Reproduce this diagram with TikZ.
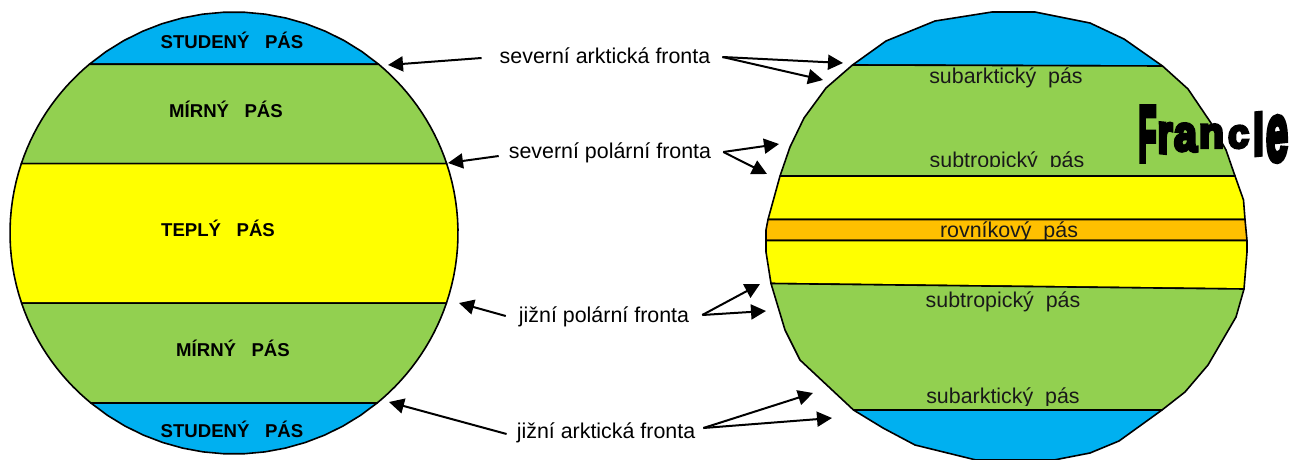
\documentclass[tikz,border=0pt]{standalone}
\usepackage{fontspec}
\usepackage{graphicx}
\setmainfont{Liberation Sans}
\newfontfamily\wafont[FakeBold=7]{Liberation Sans Bold}
\usetikzlibrary{arrows.meta}
\definecolor{beltblue}{HTML}{00B0F0}
\definecolor{beltgreen}{HTML}{92D050}
\definecolor{beltyellow}{HTML}{FFFF00}
\definecolor{beltorange}{HTML}{FFC000}
\tikzset{
  belt/.style={draw=black,line width=1.6pt,line join=round},
  globearc/.style={domain=#1,samples=16,variable=\t},
  boldlabel/.style={inner sep=0pt,font=\fontsize{18.6}{20}\selectfont\bfseries},
  beltlabel/.style={inner sep=0pt,font=\fontsize{21.4}{23}\selectfont,text=black!90},
  frontlabel/.style={inner xsep=0pt,inner ysep=0pt,font=\fontsize{21.4}{23}\selectfont},
  pointer/.style={line width=2pt,-{Triangle[length=15pt,width=15pt]}},
  waletter/.style={inner sep=0pt}
}
\newcommand{\waglyphh}[7]{\node[waletter,yslant=#7] (#1) at (#3,#4) {\resizebox{#5pt}{#6pt}{\wafont #2}};}
\begin{document}
\begin{tikzpicture}[x=1pt,y=-1pt]
\useasboundingbox (0,0) rectangle (1298,460);
% left globe
\path[belt,fill=beltblue] plot[globearc=49.8:130.2] ({234+224*cos(\t)},{233-221*sin(\t)}) -- cycle;
\path[belt,fill=beltgreen] plot[globearc=18.3:49.8] ({234+224*cos(\t)},{233-221*sin(\t)}) -- plot[globearc=130.2:161.7] ({234+224*cos(\t)},{233-221*sin(\t)}) -- cycle;
\path[belt,fill=beltyellow] plot[globearc=-18.5:18.3] ({234+224*cos(\t)},{233-221*sin(\t)}) -- plot[globearc=161.7:198.5] ({234+224*cos(\t)},{233-221*sin(\t)}) -- cycle;
\path[belt,fill=beltgreen] plot[globearc=-50.3:-18.5] ({234+224*cos(\t)},{233-221*sin(\t)}) -- plot[globearc=198.5:230.3] ({234+224*cos(\t)},{233-221*sin(\t)}) -- cycle;
\path[belt,fill=beltblue] plot[globearc=230.3:309.7] ({234+224*cos(\t)},{233-221*sin(\t)}) -- cycle;
\node[boldlabel] (l1) at (232,40.5) {STUDENÝ\ \ \ PÁS};
\node[boldlabel] (l2) at (226,109.5) {MÍRNÝ\ \ \ PÁS};
\node[boldlabel] (l3) at (218,228.5) {TEPLÝ\ \ \ PÁS};
\node[boldlabel] (l4) at (233,348.5) {MÍRNÝ\ \ \ PÁS};
\node[boldlabel] (l5) at (232,429.5) {STUDENÝ\ \ \ PÁS};
% right globe
\path[belt,fill=beltblue] (852.5,65) -- (886,41) -- (935,21) -- (992,12) -- (1035,12) -- (1090,23) -- (1124,39) -- (1162.5,66) -- cycle;
\path[belt,fill=beltgreen] (852.5,65) -- (1162.5,66) -- (1188,89) -- (1211,123) -- (1226,150) -- (1235,176) -- (780,176) -- (790,147) -- (804,118) -- (826,88) -- cycle;
\path[belt,fill=beltyellow] (780,176) -- (1235,176) -- (1243.5,200) -- (1245,219.5) -- (768,219.5) -- cycle;
\path[belt,fill=beltorange] (768,219.5) -- (1245,219.5) -- (1247,240.5) -- (766,240.5) -- (766,230) -- cycle;
\path[belt,fill=beltyellow] (766,240.5) -- (1247,240.5) -- (1247,252) -- (1244,289) -- (771,283.5) -- (766,252) -- cycle;
\path[belt,fill=beltgreen] (771,283.5) -- (1244,289) -- (1236,317) -- (1208,365) -- (1185,392) -- (1162,410) -- (853.5,410) -- (800,360) -- (785,330) -- cycle;
\path[belt,fill=beltblue] (853.5,410) -- (1162,410) -- (1119,441) -- (1090,453) -- (1054,460) -- (976,460) -- (915,445) -- (883,428) -- cycle;
\node[beltlabel] (r1) at (1006,78) {subarktický\ \ pás};
\begin{scope}
\clip (900,140) rectangle (1100,166.5);
\node[beltlabel] (r2) at (1007,162) {subtropický\ \ pás};
\end{scope}
\begin{scope}
\clip (900,215) rectangle (1100,239);
\node[beltlabel] (r3) at (1009,232) {rovníkový\ \ pás};
\end{scope}
\node[beltlabel] (r4) at (1003,302) {subtropický\ \ pás};
\begin{scope}
\clip (900,380) rectangle (1100,405.5);
\node[beltlabel] (r5) at (1003,398) {subarktický\ \ pás};
\end{scope}
% Francle
\waglyphh{w1}{F}{1147.5}{134}{18}{54}{0}
\waglyphh{w2}{r}{1165}{138}{15}{30}{-0.1}
\waglyphh{w3}{a}{1185.5}{137.5}{23}{27}{-0.05}
\waglyphh{w4}{n}{1211.5}{136}{25}{23}{0}
\waglyphh{w5}{c}{1238.5}{137}{21}{22}{0.05}
\waglyphh{w6}{l}{1258.5}{134}{11}{42}{0.1}
\waglyphh{w7}{e}{1277}{139}{22}{44}{0.1}
% labels
\node[frontlabel] (sa) at (605,56) {severní arktická fronta};
\node[frontlabel] (sp) at (610,153) {severní polární fronta};
\node[frontlabel] (jp) at (604,317) {jižní polární fronta};
\node[frontlabel] (ja) at (606,433) {jižní arktická fronta};
\coordinate (t1) at (388,65);
\coordinate (t2) at (843,63);
\coordinate (t3) at (823,80);
\coordinate (t4) at (448,163);
\coordinate (t5) at (779,144);
\coordinate (t6) at (767,174);
\coordinate (t7) at (459,303);
\coordinate (t8) at (760,284);
\coordinate (t9) at (766,311);
\coordinate (t10) at (389,402);
\coordinate (t11) at (813,393);
\coordinate (t12) at (832,418);
\draw[pointer] ([shift={(-18,2)}]sa.west) -- (t1);
\draw[pointer] ([shift={(12,1)}]sa.east) -- (t2);
\draw[pointer] ([shift={(12,1)}]sa.east) -- (t3);
\draw[pointer] ([shift={(-10,3)}]sp.west) -- (t4);
\draw[pointer] ([shift={(12,-1)}]sp.east) -- (t5);
\draw[pointer] ([shift={(12,-1)}]sp.east) -- (t6);
\draw[pointer] ([shift={(-13,-1)}]jp.west) -- (t7);
\draw[pointer] ([shift={(13,-2)}]jp.east) -- (t8);
\draw[pointer] ([shift={(13,-2)}]jp.east) -- (t9);
\draw[pointer] ([shift={(-10,1)}]ja.west) -- (t10);
\draw[pointer] ([shift={(8,-5)}]ja.east) -- (t11);
\draw[pointer] ([shift={(8,-5)}]ja.east) -- (t12);
\end{tikzpicture}
\end{document}
